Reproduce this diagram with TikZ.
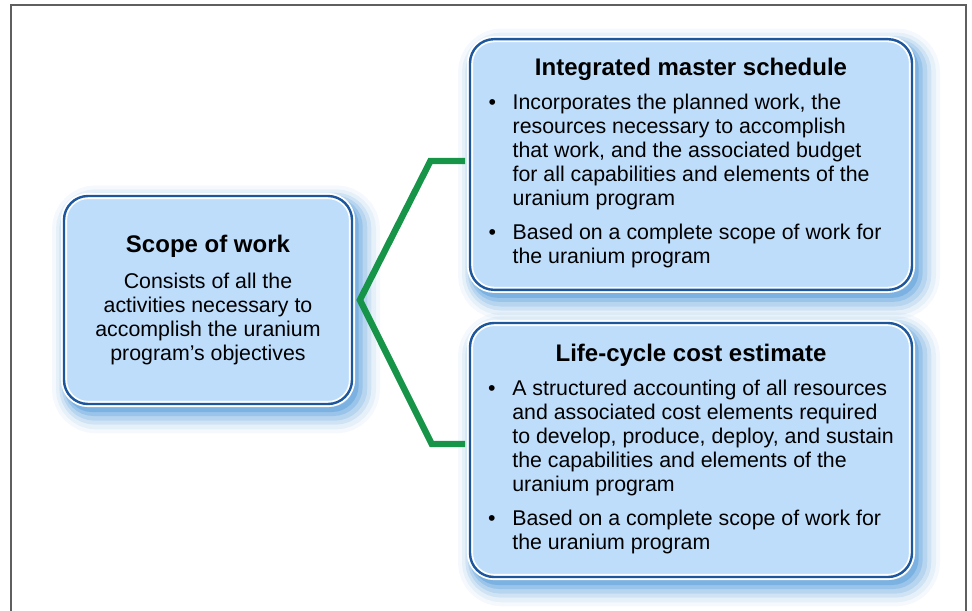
\documentclass[tikz,border=0pt]{standalone}
\usepackage{fontspec}
\setmainfont{Liberation Sans}
\usepackage{xcolor}
\usepackage{tikz}
\usetikzlibrary{positioning}
\definecolor{boxfill}{RGB}{189,221,251}
\definecolor{boxline}{RGB}{28,86,156}
\definecolor{glowblue}{RGB}{52,136,210}
\definecolor{linkgreen}{RGB}{22,148,72}
\definecolor{framegray}{RGB}{95,95,95}
\newcommand{\cardtitle}{\fontsize{18}{20}\selectfont\bfseries}
\tikzstyle{glow} = [preaction={draw=glowblue, line width=30pt, draw opacity=0.05, transform canvas={xshift=6pt, yshift=-7pt}},
                    preaction={draw=glowblue, line width=24pt, draw opacity=0.08, transform canvas={xshift=6pt, yshift=-7pt}},
                    preaction={draw=glowblue, line width=18pt, draw opacity=0.12, transform canvas={xshift=5.5pt, yshift=-6.5pt}},
                    preaction={draw=glowblue, line width=13pt, draw opacity=0.16, transform canvas={xshift=5pt, yshift=-6pt}},
                    preaction={draw=glowblue, line width=8pt, draw opacity=0.22, transform canvas={xshift=4pt, yshift=-5pt}},
                    preaction={draw=glowblue, line width=4pt, draw opacity=0.3, transform canvas={xshift=3pt, yshift=-4pt}}]
\tikzstyle{card} = [rectangle, rounded corners=18pt, inner sep=0pt, glow, fill=boxfill, draw=white, double=boxline, double distance=1.8pt, line width=1.4pt, align=center, font=\fontsize{16}{18}\selectfont]
\tikzstyle{link} = [line width=4.8pt, draw=linkgreen]

\begin{document}
\begin{tikzpicture}[x=0.75pt, y=-0.75pt]
		\useasboundingbox (0,0) rectangle (972,611);
		
		% Frame
		\draw [framegray, line width=1.1pt] (11,611) -- (11,5) -- (966,5) -- (966,611);
		
		% Nodes
		\node (scope) [card, minimum width=216pt, minimum height=156pt] at (208,300) {{\cardtitle Scope of work}\\[9pt]
			Consists of all the\\ activities necessary to\\ accomplish the uranium\\ program’s objectives};
		\node (ims) [card, minimum width=331.5pt, minimum height=188pt] at (691,164.5) {{\cardtitle Integrated master schedule}\\[7.5pt]
			\hspace*{-9pt}\begin{tabular}[t]{@{}l@{\hspace{12.5pt}}l@{}}
				\textbullet & Incorporates the planned work, the\\
				& resources necessary to accomplish\\
				& that work, and the associated budget\\
				& for all capabilities and elements of the\\
				& uranium program\\[7.5pt]
				\textbullet & Based on a complete scope of work for\\
				& the uranium program
			\end{tabular}};
		\node (lcc) [card, minimum width=331.5pt, minimum height=190.5pt] at (691,450) {{\cardtitle Life-cycle cost estimate}\\[7.5pt]
			\begin{tabular}[t]{@{}l@{\hspace{12.5pt}}l@{}}
				\textbullet & A structured accounting of all resources\\
				& and associated cost elements required\\
				& to develop, produce, deploy, and sustain\\
				& the capabilities and elements of the\\
				& uranium program\\[7.5pt]
				\textbullet & Based on a complete scope of work for\\
				& the uranium program
			\end{tabular}};
		
		% Connectors
		\draw [link] ([xshift=-3pt, yshift=2.6pt]ims.west) -- ++(-26pt,0) -- ([xshift=5.2pt]scope.east)
			-- ([xshift=-28pt, yshift=4.5pt]lcc.west) -- ([xshift=-3pt, yshift=4.5pt]lcc.west);
		
	\end{tikzpicture}
\end{document}
